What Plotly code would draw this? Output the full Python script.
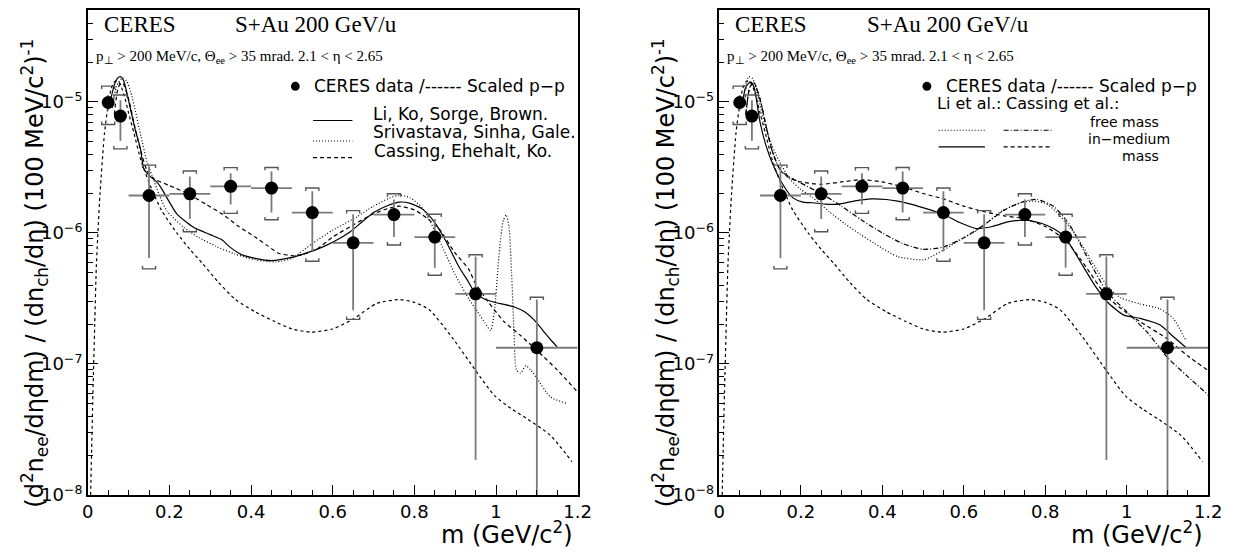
import plotly.graph_objects as go
import numpy as np

# page body has an 8px margin: build the figure 16px smaller and place
# everything with screen coordinates shifted by that margin
SCREEN_W, SCREEN_H = 1244, 556
OFF = 8
W, H = SCREEN_W - 2 * OFF, SCREEN_H - 2 * OFF

# ---------------- data (CERES S+Au) ----------------
m_data = [0.05, 0.08, 0.15, 0.25, 0.35, 0.45, 0.55, 0.65, 0.75, 0.85, 0.95, 1.10]
y_data = [9.9e-6, 7.8e-6, 1.93e-6, 1.99e-6, 2.27e-6, 2.20e-6, 1.43e-6, 8.4e-7, 1.38e-6, 9.3e-7, 3.43e-7, 1.33e-7]
m_halfbin = [0.01, 0.01, 0.05, 0.05, 0.05, 0.05, 0.05, 0.05, 0.05, 0.05, 0.05, 0.10]
stat_hi = [1.13e-5, 1.03e-5, 3.2e-6, 2.7e-6, 2.85e-6, 2.94e-6, 2.08e-6, 1.39e-6, 1.80e-6, 1.28e-6, 6.6e-7, 3.1e-7]
stat_lo = [8.6e-6, 5.06e-6, 6.43e-7, 1.28e-6, 1.65e-6, 1.43e-6, 7.21e-7, 2.57e-7, 9.33e-7, 5.42e-7, 1.85e-8, 5e-9]
sys_hi = [1.32e-5, 1.13e-5, 3.29e-6, 2.97e-6, 3.15e-6, 3.16e-6, 2.20e-6, 1.48e-6, 1.99e-6, 1.39e-6, 6.82e-7, 3.23e-7]
sys_lo = [6.73e-6, 4.38e-6, 5.32e-7, 1.02e-6, 1.41e-6, 1.26e-6, 6.08e-7, 2.19e-7, 8.09e-7, 4.75e-7, None, None]

# ---------------- scaled p-p (both panels) ----------------
pp_m = [0.007, 0.012, 0.017, 0.021, 0.03, 0.041, 0.05, 0.057, 0.065, 0.072, 0.08, 0.09, 0.10, 0.113,
        0.13, 0.153, 0.18, 0.218, 0.25, 0.282, 0.32, 0.362, 0.41, 0.459, 0.50, 0.547, 0.60, 0.65,
        0.708, 0.764, 0.80, 0.836, 0.892, 0.949, 0.997, 1.04, 1.077, 1.133, 1.186]
pp_y = [1e-8, 5e-8, 2e-7, 5.6e-7, 2e-6, 5.8e-6, 9.5e-6, 1.25e-5, 1.42e-5, 1.45e-5, 1.35e-5, 1.1e-5, 8.2e-6, 5.8e-6,
        3.6e-6, 2.3e-6, 1.5e-6, 1.0e-6, 7.5e-7, 5.8e-7, 4.2e-7, 3.1e-7, 2.5e-7, 2.1e-7, 1.85e-7, 1.75e-7, 1.85e-7, 2.2e-7,
        2.9e-7, 3.1e-7, 2.95e-7, 2.6e-7, 1.6e-7, 9e-8, 5.7e-8, 4.5e-8, 3.8e-8, 2.85e-8, 1.8e-8]

# ---------------- left panel models ----------------
li_m = [0.055, 0.065, 0.073, 0.08, 0.088, 0.095, 0.105, 0.117, 0.129, 0.137, 0.15, 0.169, 0.18, 0.194, 0.218,
        0.258, 0.30, 0.33, 0.346, 0.378, 0.41, 0.45, 0.50, 0.54, 0.579, 0.62, 0.643, 0.67, 0.70, 0.735, 0.764,
        0.79, 0.82, 0.85, 0.876, 0.908, 0.933, 0.948, 0.97, 0.996, 1.02, 1.045, 1.07, 1.093, 1.115, 1.137, 1.15]
li_y = [1.0e-5, 1.35e-5, 1.52e-5, 1.56e-5, 1.45e-5, 1.2e-5, 8.7e-6, 6.0e-6, 4.4e-6, 3.1e-6, 2.75e-6, 2.45e-6, 2.2e-6, 1.85e-6, 1.4e-6,
        1.11e-6, 9.7e-7, 8.8e-7, 7.9e-7, 6.8e-7, 6.4e-7, 6.15e-7, 6.5e-7, 7.1e-7, 7.9e-7, 9.2e-7, 1.02e-6, 1.2e-6, 1.43e-6, 1.62e-6, 1.72e-6,
        1.68e-6, 1.52e-6, 1.2e-6, 8.8e-7, 5.6e-7, 4.2e-7, 3.5e-7, 3.15e-7, 2.96e-7, 2.85e-7, 2.72e-7, 2.5e-7, 2.17e-7, 1.8e-7, 1.49e-7, 1.35e-7]

sri_m = [0.06, 0.07, 0.08, 0.088, 0.095, 0.105, 0.115, 0.13, 0.145, 0.157, 0.175, 0.194, 0.234, 0.27, 0.314,
         0.36, 0.41, 0.46, 0.50, 0.55, 0.60, 0.66, 0.70, 0.74, 0.764, 0.79, 0.82, 0.868, 0.90, 0.933, 0.955,
         0.973, 0.987, 0.996, 1.005, 1.012, 1.018, 1.025, 1.032, 1.038, 1.044, 1.05, 1.06, 1.073, 1.085, 1.10,
         1.133, 1.173]
sri_y = [9e-6, 1.3e-5, 1.48e-5, 1.52e-5, 1.45e-5, 1.2e-5, 9e-6, 5.5e-6, 3.5e-6, 2.76e-6, 1.95e-6, 1.47e-6, 1.11e-6, 9.3e-7, 7.9e-7,
         6.9e-7, 6.25e-7, 6.0e-7, 6.4e-7, 8.3e-7, 1.05e-6, 1.33e-6, 1.6e-6, 1.85e-6, 1.95e-6, 1.85e-6, 1.55e-6, 7.9e-7, 4.8e-7, 3.15e-7, 2.5e-7,
         2.05e-7, 1.8e-7, 2.5e-7, 5.5e-7, 9.5e-7, 1.25e-6, 1.38e-6, 1.1e-6, 5e-7, 1.8e-7, 9e-8, 8.5e-8, 9.7e-8, 9e-8, 7.8e-8,
         5.6e-8, 5e-8]

cas_m = [0.065, 0.075, 0.085, 0.10, 0.115, 0.13, 0.145, 0.161, 0.20, 0.25, 0.29, 0.33, 0.37, 0.41, 0.44, 0.467,
         0.50, 0.523, 0.56, 0.60, 0.65, 0.70, 0.74, 0.764, 0.80, 0.83, 0.86, 0.90, 0.933, 0.948, 0.98, 1.02,
         1.06, 1.101, 1.15, 1.198]
cas_y = [8e-6, 1.3e-5, 1.4e-5, 1.05e-5, 6.5e-6, 4.2e-6, 3.0e-6, 2.6e-6, 2.3e-6, 1.96e-6, 1.65e-6, 1.39e-6, 1.12e-6, 9.3e-7, 8e-7, 7e-7,
         6.7e-7, 6.8e-7, 7.5e-7, 9.3e-7, 1.15e-6, 1.4e-6, 1.55e-6, 1.6e-6, 1.5e-6, 1.3e-6, 1.08e-6, 7e-7, 5.3e-7, 4.2e-7, 3.0e-7, 2.1e-7,
         1.65e-7, 1.26e-7, 9e-8, 6.2e-8]

# ---------------- right panel models ----------------
limed_m = [0.055, 0.065, 0.076, 0.085, 0.10, 0.115, 0.132, 0.156, 0.18, 0.205, 0.229, 0.26, 0.293, 0.33, 0.373,
           0.41, 0.438, 0.47, 0.518, 0.55, 0.59, 0.631, 0.67, 0.711, 0.75, 0.768, 0.792, 0.82, 0.848, 0.88,
           0.921, 0.953, 0.993, 1.033, 1.081, 1.114, 1.146]
limed_y = [9e-6, 1.3e-5, 1.42e-5, 1.3e-5, 7e-6, 4.6e-6, 3.3e-6, 2.34e-6, 1.86e-6, 1.72e-6, 1.7e-6, 1.66e-6, 1.66e-6, 1.75e-6, 1.82e-6,
           1.8e-6, 1.75e-6, 1.66e-6, 1.5e-6, 1.39e-6, 1.2e-6, 1.08e-6, 1.12e-6, 1.22e-6, 1.25e-6, 1.23e-6, 1.18e-6, 1.08e-6, 9.3e-7, 6.5e-7,
           4e-7, 2.96e-7, 2.36e-7, 2.23e-7, 1.99e-7, 1.62e-7, 1.33e-7]

lifree_m = [0.06, 0.072, 0.082, 0.095, 0.11, 0.125, 0.14, 0.172, 0.20, 0.229, 0.27, 0.309, 0.345, 0.381, 0.438,
            0.502, 0.55, 0.59, 0.631, 0.695, 0.74, 0.768, 0.80, 0.824, 0.872, 0.921, 0.953, 0.985, 1.033, 1.081,
            1.114, 1.146]
lifree_y = [1.1e-5, 1.56e-5, 1.5e-5, 1.1e-5, 7e-6, 5e-6, 3.9e-6, 2.6e-6, 2.15e-6, 1.86e-6, 1.45e-6, 1.17e-6, 9.8e-7, 8.3e-7, 6.6e-7,
            6.25e-7, 7.4e-7, 8.8e-7, 1.04e-6, 1.48e-6, 1.7e-6, 1.75e-6, 1.68e-6, 1.48e-6, 9.9e-7, 5.6e-7, 3.9e-7, 3.2e-7, 2.87e-7, 2.64e-7,
            2.23e-7, 1.49e-7]

casfree_m = [0.065, 0.075, 0.085, 0.10, 0.115, 0.13, 0.15, 0.17, 0.20, 0.25, 0.30, 0.35, 0.40, 0.45, 0.50,
             0.55, 0.60, 0.65, 0.70, 0.75, 0.78, 0.82, 0.86, 0.90, 0.95, 1.00, 1.05, 1.10, 1.15, 1.20]
casfree_y = [8e-6, 1.3e-5, 1.4e-5, 1.05e-5, 6.5e-6, 4.2e-6, 3.0e-6, 2.7e-6, 2.4e-6, 2.0e-6, 1.6e-6, 1.25e-6, 1.0e-6, 8.3e-7, 7.5e-7,
             7.8e-7, 9.2e-7, 1.15e-6, 1.5e-6, 1.75e-6, 1.8e-6, 1.6e-6, 1.15e-6, 6.8e-7, 3.6e-7, 2.5e-7, 1.75e-7, 1.12e-7, 8e-8, 5.8e-8]

casmed_m = [0.065, 0.075, 0.085, 0.10, 0.115, 0.13, 0.15, 0.17, 0.20, 0.25, 0.30, 0.35, 0.40, 0.45, 0.50,
            0.55, 0.60, 0.65, 0.70, 0.75, 0.80, 0.85, 0.90, 0.95, 1.00, 1.033, 1.10, 1.15, 1.20]
casmed_y = [8e-6, 1.3e-5, 1.4e-5, 1.05e-5, 6.5e-6, 4.2e-6, 3.0e-6, 2.65e-6, 2.45e-6, 2.35e-6, 2.45e-6, 2.55e-6, 2.45e-6, 2.25e-6, 2.0e-6,
            1.82e-6, 1.6e-6, 1.45e-6, 1.35e-6, 1.28e-6, 1.12e-6, 8.8e-7, 5.5e-7, 3.3e-7, 2.45e-7, 2.1e-7, 1.55e-7, 1.15e-7, 8.9e-8]

x_ticks = [0, 0.2, 0.4, 0.6, 0.8, 1.0, 1.2]
x_ticktext = ["0", "0.2", "0.4", "0.6", "0.8", "1", "1.2"]
y_ticks = [1e-8, 1e-7, 1e-6, 1e-5]
y_ticktext = ["10<sup>−8</sup>", "10<sup>−7</sup>", "10<sup>−6</sup>", "10<sup>−5</sup>"]


# ---------------- layout geometry (screen pixels) ----------------
def PX(x):
    return (x - OFF) / W


def PY(y):
    return 1 - (y - OFF) / H


panels = [dict(x0=83, x1=581), dict(x0=725, x1=1222)]
top_px, bot_px = 8, 504
DECADE_PX = 134.0
y_top_log = -8 + (bot_px - top_px) / DECADE_PX

BLACK = "black"
ERRC = "#7a7a7a"
SYSC = "#555555"
SANS = "DejaVu Sans"
SERIF = "Liberation Serif"

fig = go.Figure()


def add_data(xa, ya):
    # systematic brackets
    w = 0.016
    fdec = 10 ** 0.022
    bx, by = [], []
    for xi, hi, lo in zip(m_data, sys_hi, sys_lo):
        if hi is not None:
            bx += [xi - w, xi - w, xi + w, xi + w, None]
            by += [hi / fdec, hi, hi, hi / fdec, None]
        if lo is not None:
            bx += [xi - w, xi - w, xi + w, xi + w, None]
            by += [lo * fdec, lo, lo, lo * fdec, None]
    fig.add_trace(go.Scatter(x=bx, y=by, mode="lines", xaxis=xa, yaxis=ya,
                             line=dict(color=SYSC, width=1.4), hoverinfo="skip"))
    eplus = [h - v for h, v in zip(stat_hi, y_data)]
    eminus = [v - l for l, v in zip(stat_lo, y_data)]
    fig.add_trace(go.Scatter(
        x=m_data, y=y_data, mode="markers", xaxis=xa, yaxis=ya,
        marker=dict(color=BLACK, size=13),
        error_y=dict(type="data", symmetric=False, array=eplus, arrayminus=eminus,
                     color=ERRC, thickness=1.8, width=0),
        error_x=dict(type="data", array=m_halfbin, color=ERRC, thickness=1.8, width=0),
    ))


def add_curve(xs, ys, dash, xa, ya, width=1.2):
    fig.add_trace(go.Scatter(x=xs, y=ys, mode="lines", xaxis=xa, yaxis=ya,
                             line=dict(color=BLACK, width=width, dash=dash, shape="spline", smoothing=0.6),
                             hoverinfo="skip"))


PP_DASH = "3px,3px"
CAS_DASH = "4px,3px"
DOT = "1px,2px"
DASHDOT = "5px,2px,1px,2px"

# left panel
add_curve(pp_m, pp_y, PP_DASH, "x", "y")
add_curve(li_m, li_y, "solid", "x", "y")
add_curve(sri_m, sri_y, DOT, "x", "y")
add_curve(cas_m, cas_y, CAS_DASH, "x", "y")
add_data("x", "y")

# right panel
add_curve(pp_m, pp_y, PP_DASH, "x2", "y2")
add_curve(lifree_m, lifree_y, DOT, "x2", "y2")
add_curve(limed_m, limed_y, "solid", "x2", "y2")
add_curve(casfree_m, casfree_y, DASHDOT, "x2", "y2")
add_curve(casmed_m, casmed_y, CAS_DASH, "x2", "y2")
add_data("x2", "y2")

minor_y = [k * 10.0 ** d for d in range(-8, -4) for k in range(2, 10) if np.log10(k * 10.0 ** d) < y_top_log]

axis_common_x = dict(range=[0, 1.2], showline=True, linecolor=BLACK, linewidth=1.5, mirror=True,
                     ticks="inside", ticklen=10, tickwidth=1.2, tickcolor=BLACK,
                     tickmode="array", tickvals=x_ticks, ticktext=x_ticktext,
                     minor=dict(ticks="inside", ticklen=5, tickwidth=1.2, tickcolor=BLACK, dtick=0.05, tick0=0),
                     showgrid=False, zeroline=False,
                     tickfont=dict(family=SANS, size=18, color=BLACK))
axis_common_y = dict(type="log", range=[-8, y_top_log], showline=True, linecolor=BLACK, linewidth=1.5,
                     mirror=True, ticks="inside", ticklen=10, tickwidth=1.2, tickcolor=BLACK,
                     tickmode="array", tickvals=y_ticks, ticktext=y_ticktext,
                     minor=dict(ticks="inside", ticklen=5, tickwidth=1.2, tickcolor=BLACK,
                                tickmode="array", tickvals=minor_y),
                     showgrid=False, zeroline=False,
                     tickfont=dict(family=SANS, size=18, color=BLACK))

ydom = [PY(bot_px), min(1.0, PY(top_px))]
fig.update_layout(
    width=W, height=H, margin=dict(l=0, r=0, t=0, b=0),
    paper_bgcolor="white", plot_bgcolor="white", showlegend=False,
    xaxis=dict(domain=[PX(83), PX(581)], anchor="y", **axis_common_x),
    yaxis=dict(domain=ydom, anchor="x", **axis_common_y),
    xaxis2=dict(domain=[PX(725), PX(1222)], anchor="y2", **axis_common_x),
    yaxis2=dict(domain=ydom, anchor="x2", **axis_common_y),
)

ann = []
shapes = []


def text(x, y, s, size, family=SANS, xanchor="left", angle=0):
    ann.append(dict(x=PX(x), y=PY(y), xref="paper", yref="paper", text=s, showarrow=False,
                    xanchor=xanchor, yanchor="middle", textangle=angle,
                    font=dict(family=family, size=size, color=BLACK)))


def hline(x0, x1, y, dash):
    shapes.append(dict(type="line", xref="paper", yref="paper", x0=PX(x0), x1=PX(x1), y0=PY(y), y1=PY(y),
                       line=dict(color=BLACK, width=1.2, dash=dash)))


def dot(x, y, r):
    shapes.append(dict(type="circle", xref="paper", yref="paper", x0=PX(x - r), x1=PX(x + r),
                       y0=PY(y + r), y1=PY(y - r), fillcolor=BLACK, line=dict(color=BLACK, width=0)))


subtitle = "p<sub>⊥</sub> > 200 MeV/c, Θ<sub>ee</sub> > 35 mrad. 2.1 < η < 2.65"
ytitle = "(d<sup>2</sup>n<sub>ee</sub>/dηdm) / (dn<sub>ch</sub>/dη) (100 MeV/c<sup>2</sup>)<sup>-1</sup>"
xtitle = "m (GeV/c<sup>2</sup>)"

for p in panels:
    off = p["x0"] - 83
    text(97 + off, 23, "CERES", 23, SERIF)
    text(231 + off, 23, "S+Au 200 GeV/u", 23, SERIF)
    text(89 + off, 56, subtitle, 15, SERIF)
    dot(294 + off, 86, 4.5)
    text(311 + off, 86, "CERES data /------ Scaled p−p", 17)
    text(p["x1"] - 3, 543, xtitle, 24, SANS, xanchor="right")
    text(p["x0"] - 55, 277, ytitle, 24, SANS, xanchor="center", angle=-90)

# left legend
text(371, 114, "Li, Ko, Sorge, Brown.", 17)
text(371, 133, "Srivastava, Sinha, Gale.", 17)
text(372, 152, "Cassing, Ehehalt, Ko.", 17)
hline(312, 352, 121, "solid")
hline(312, 352, 142, DOT)
hline(312, 352, 159, CAS_DASH)

# right legend
text(944, 104, "Li et al.:", 16)
text(1014, 104, "Cassing et al.:", 16)
hline(948, 995, 131, DOT)
hline(1014, 1064, 131, DASHDOT)
hline(948, 995, 148, "solid")
hline(1014, 1064, 148, CAS_DASH)
text(1100, 123, "free mass", 14)
text(1098, 140, "in−medium", 14)
text(1153, 157, "mass", 14, xanchor="center")

fig.update_layout(annotations=ann, shapes=shapes)
fig.write_html("out.html")
